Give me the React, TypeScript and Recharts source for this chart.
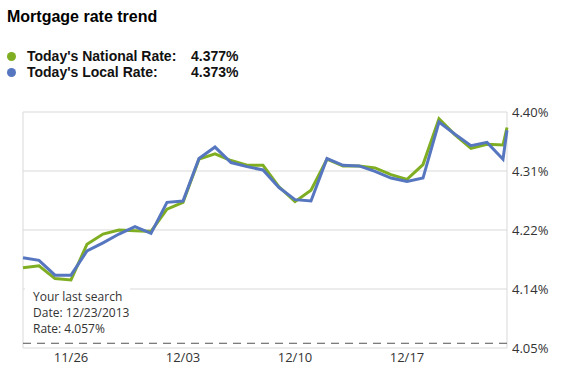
import React from "react";
import { LineChart, Line, XAxis, YAxis, CartesianGrid, ReferenceLine } from "recharts";

const dayIndex = [0, 1, 2, 3, 4, 5, 6, 7, 8, 9, 10, 11, 12, 13, 14, 15, 16, 17, 18, 19, 20, 21, 22, 23, 24, 25, 26, 27, 28, 29, 30, 30.25];
const nationalRates = [4.169, 4.172, 4.153, 4.151, 4.204, 4.219, 4.225, 4.224, 4.223, 4.256, 4.266, 4.33, 4.338, 4.328, 4.321, 4.321, 4.289, 4.267, 4.284, 4.33, 4.32, 4.32, 4.317, 4.307, 4.3, 4.322, 4.39, 4.366, 4.346, 4.352, 4.351, 4.377];
const localRates = [4.184, 4.18, 4.158, 4.158, 4.194, 4.206, 4.219, 4.23, 4.22, 4.266, 4.268, 4.331, 4.348, 4.325, 4.319, 4.314, 4.288, 4.27, 4.268, 4.331, 4.321, 4.32, 4.312, 4.302, 4.297, 4.302, 4.385, 4.367, 4.35, 4.355, 4.33, 4.373];
const xTickDays = [3, 10, 17, 24];
const xTickLabels = ["11/26", "12/03", "12/10", "12/17"];
const yTicks = [4.05, 4.1375, 4.225, 4.3125, 4.4];
const yTickLabels = ["4.05%", "4.14%", "4.22%", "4.31%", "4.40%"];
const lastSearchRate = 4.057;
const lastSearchDate = "12/23/2013";
const nationalToday = "4.377%";
const localToday = "4.373%";

const data = dayIndex.map((d, i) => ({ d, national: nationalRates[i], local: localRates[i] }));

const GREEN = "#7fae22";
const BLUE = "#5676bf";
const tickFont = { fontFamily: "'Open Sans', sans-serif", fontSize: 13, fill: "#333" };

const LastSearchLabel = (props: any) => {
  const vb = props.viewBox || {};
  const x = vb.x;
  const y = vb.y;
  const tf = { fontFamily: "'Open Sans', sans-serif", fontSize: 12, fill: "#333" };
  return (
    <g>
      <rect x={x + 2} y={y - 58} width={105} height={53} fill="#fff" />
      <text x={x + 10} y={y - 42} {...tf}>Your last search</text>
      <text x={x + 10} y={y - 26} {...tf}>{`Date: ${lastSearchDate}`}</text>
      <text x={x + 10} y={y - 10} {...tf}>{`Rate: ${lastSearchRate.toFixed(3)}%`}</text>
    </g>
  );
};

export default function App() {
  const xMax = dayIndex[dayIndex.length - 1];
  return (
    <div style={{ position: "absolute", left: 0, top: 0, width: 573, height: 383, background: "#fff" }}>
      <div style={{ position: "absolute", left: 7, top: 8, fontFamily: "'Liberation Sans', Arial, sans-serif", fontWeight: "bold", fontSize: 16, color: "#000" }}>
        Mortgage rate trend
      </div>
      {[
        { label: "Today's National Rate:", value: nationalToday, color: GREEN, top: 48 },
        { label: "Today's Local Rate:", value: localToday, color: BLUE, top: 64 },
      ].map((r) => (
        <div key={r.label} style={{ position: "absolute", left: 0, top: r.top, height: 16, width: 300, fontFamily: "'Liberation Sans', Arial, sans-serif", fontWeight: "bold", fontSize: 14, color: "#111" }}>
          <span style={{ position: "absolute", left: 7, top: 4, width: 9, height: 9, borderRadius: 5, background: r.color }} />
          <span style={{ position: "absolute", left: 27, top: 0 }}>{r.label}</span>
          <span style={{ position: "absolute", left: 191, top: 0 }}>{r.value}</span>
        </div>
      ))}
      <div style={{ position: "absolute", left: 0, top: 0 }}>
        <LineChart width={573} height={383} data={data} margin={{ top: 112, right: 0, left: 23, bottom: 0 }}>
          <CartesianGrid vertical={false} stroke="#d9d9d9" />
          <XAxis
            dataKey="d"
            type="number"
            domain={[0, xMax]}
            ticks={xTickDays}
            tickFormatter={(v: number) => xTickLabels[xTickDays.indexOf(v)] ?? ""}
            axisLine={false}
            tickLine={false}
            tickSize={0}
            tickMargin={5}
            height={35}
            tick={tickFont}
            interval={0}
          />
          <YAxis
            orientation="right"
            domain={[yTicks[0], yTicks[yTicks.length - 1]]}
            ticks={yTicks}
            tickFormatter={(v: number) => yTickLabels[yTicks.indexOf(v)] ?? ""}
            axisLine={false}
            tickLine={false}
            tickSize={0}
            tickMargin={5}
            width={66}
            tick={{ ...tickFont, textAnchor: "start" }}
            interval={0}
          />
          <ReferenceLine x={0} stroke="#d9d9d9" />
          <ReferenceLine x={xMax} stroke="#d9d9d9" />
          <ReferenceLine y={lastSearchRate} stroke="#555" strokeDasharray="8 6" label={<LastSearchLabel />} />
          <Line type="linear" dataKey="national" stroke={GREEN} strokeWidth={3} dot={false} isAnimationActive={false} />
          <Line type="linear" dataKey="local" stroke={BLUE} strokeWidth={3} dot={false} isAnimationActive={false} />
        </LineChart>
      </div>
    </div>
  );
}
